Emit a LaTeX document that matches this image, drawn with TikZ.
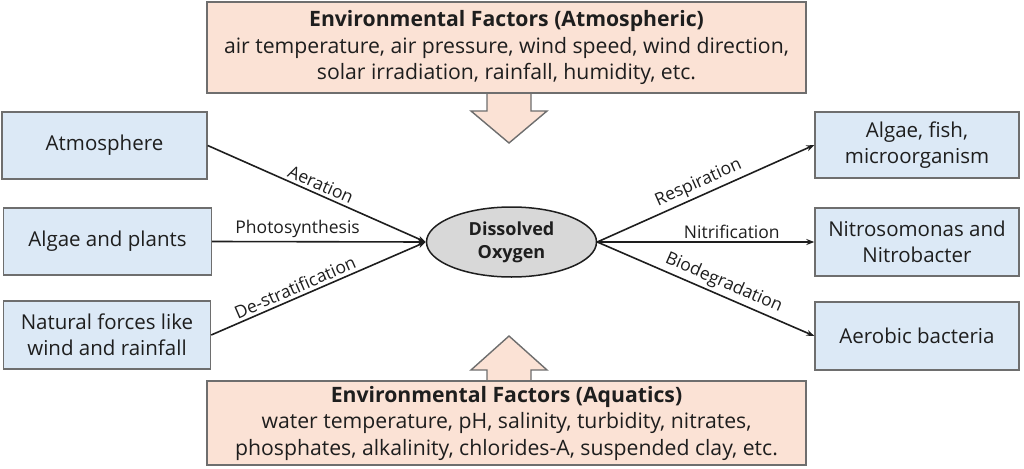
\documentclass[tikz,border=0pt]{standalone}
\usepackage{fontspec}
\setmainfont{Open Sans}
\usetikzlibrary{arrows.meta,shapes.geometric}
\definecolor{bluefill}{RGB}{220,233,246}
\definecolor{boxline}{RGB}{110,110,110}
\definecolor{pinkfill}{RGB}{251,226,213}
\definecolor{ellfill}{RGB}{216,216,216}
\definecolor{txt}{RGB}{30,30,30}
\tikzset{
  bluebox/.style={draw=boxline, line width=1.4pt, fill=bluefill, minimum width=206pt, minimum height=66pt, align=center, font=\fontsize{20.5}{26}\selectfont, text=txt},
  pinkbox/.style={draw=boxline, line width=1.4pt, fill=pinkfill, minimum width=599pt, align=center, text=txt, font=\fontsize{21.2}{26.5}\selectfont},
  blockarrow/.style={draw=boxline, line width=1.4pt, fill=pinkfill},
  flow/.style={line width=1.6pt, draw=txt, -{Stealth[length=8pt,width=6pt]}},
  lab/.style={font=\fontsize{17.5}{20}\selectfont, text=txt, inner sep=3pt}
}
\begin{document}
\begin{tikzpicture}[x=1pt,y=-1pt]
\useasboundingbox (0,0) rectangle (1024,468);
% top block arrow
\draw[blockarrow] (487,92) -- (487,111) -- (471,111) -- (509,143) -- (547,111) -- (531,111) -- (531,92) -- cycle;
\node[pinkbox, minimum height=91pt] (top) at (506.5,47.5) {\textbf{Environmental Factors (Atmospheric)}\\air temperature, air pressure, wind speed, wind direction,\\solar irradiation, rainfall, humidity, etc.};
% bottom block arrow
\draw[blockarrow] (487,383) -- (487,370) -- (471,370) -- (509,336) -- (547,370) -- (531,370) -- (531,383) -- cycle;
\node[pinkbox, minimum height=84pt] (bot) at (506.5,423) {\textbf{Environmental Factors (Aquatics)}\\water temperature, pH, salinity, turbidity, nitrates,\\phosphates, alkalinity, chlorides-A, suspended clay, etc.};
% left boxes
\node[bluebox, minimum width=205pt, minimum height=67pt] (atm) at (104.5,145.5) {Atmosphere};
\node[bluebox, minimum width=208pt, minimum height=67pt] (alg) at (107.5,241.5) {Algae and plants};
\node[bluebox, minimum width=207pt, minimum height=68pt] (nat) at (107,335) {Natural forces like\\wind and rainfall};
% right boxes
\node[bluebox, minimum width=204pt] (fish) at (917,145) {Algae, fish,\\microorganism};
\node[bluebox, minimum width=204pt, minimum height=68pt] (nitro) at (917,242) {Nitrosomonas and\\Nitrobacter};
\node[bluebox, minimum width=204pt, minimum height=68pt] (aer) at (917,336) {Aerobic bacteria};
% ellipse
\node[ellipse, draw=txt, line width=1.5pt, fill=ellfill, minimum width=170pt, minimum height=70pt, inner sep=0pt, align=center, font=\bfseries\fontsize{18}{23}\selectfont, text=txt] (do) at (511.5,242) {Dissolved\\Oxygen};
% connectors
\draw[flow] (atm.east) -- (do.west) node[lab, pos=0.5, above, sloped] {Aeration};
\draw[flow] (alg.east) -- (do.west) node[lab, pos=0.40, above] {Photosynthesis};
\draw[flow] (nat.east) -- (do.west) node[lab, pos=0.41, above, sloped] {De-stratification};
\draw[flow] (do.east) -- (fish.west) node[lab, pos=0.49, above, sloped] {Respiration};
\draw[flow] (do.east) -- (nitro.west) node[lab, pos=0.62, above] {Nitrification};
\draw[flow] (do.east) -- (aer.west) node[lab, pos=0.56, above, sloped] {Biodegradation};
\end{tikzpicture}
\end{document}
